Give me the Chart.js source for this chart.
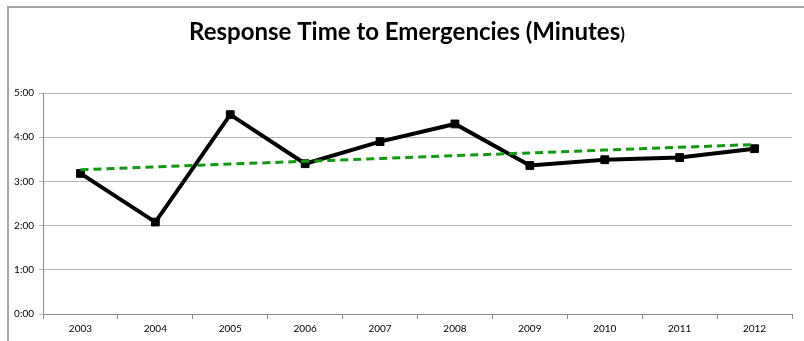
<!DOCTYPE html>
<html>
<head>
<meta charset="utf-8">
<script src="https://cdn.jsdelivr.net/npm/chart.js@4.4.1/dist/chart.umd.min.js"></script>
<style>
  html, body { margin: 0; padding: 0; background: #fff; }
  #wrap { width: 804px; height: 341px; position: relative; }
</style>
</head>
<body>
<div id="wrap"><canvas id="chart" width="804" height="341"></canvas></div>
<script>
// Years on the category axis
const years = ['2003', '2004', '2005', '2006', '2007', '2008', '2009', '2010', '2011', '2012'];
// Average response time per year, in minutes
const responseMinutes = [3.18, 2.08, 4.51, 3.40, 3.90, 4.30, 3.36, 3.49, 3.54, 3.74];
// Vertical axis range and tick step, in minutes
const yMin = 0;
const yMax = 5;
const yStep = 1;

const titleMain = 'Response Time to Emergencies (Minutes';
const titleClose = ')';

// Least-squares linear trend over the yearly values
function linearTrend(values) {
  const n = values.length;
  let sx = 0, sy = 0, sxy = 0, sxx = 0;
  values.forEach((v, i) => { sx += i; sy += v; sxy += i * v; sxx += i * i; });
  const slope = (n * sxy - sx * sy) / (n * sxx - sx * sx);
  const intercept = (sy - slope * sx) / n;
  return values.map((_, i) => intercept + slope * i);
}
const trendMinutes = linearTrend(responseMinutes);

function toClock(minutes) {
  const totalSec = Math.round(minutes * 60);
  const m = Math.floor(totalSec / 60);
  const s = totalSec % 60;
  return m + ':' + String(s).padStart(2, '0');
}

const FONT = 'Lato, "Open Sans", sans-serif';

// White background, frame on top and left, and the title
const framePlugin = {
  id: 'frame',
  beforeDraw(chart) {
    const ctx = chart.ctx;
    ctx.save();
    ctx.fillStyle = '#ffffff';
    ctx.fillRect(0, 0, chart.width, chart.height);
    ctx.strokeStyle = '#a6a6a6';
    ctx.lineWidth = 2;
    ctx.beginPath();
    ctx.moveTo(8, chart.height);
    ctx.lineTo(8, 7);
    ctx.lineTo(chart.width, 7);
    ctx.stroke();

    ctx.fillStyle = '#000000';
    ctx.textBaseline = 'alphabetic';
    ctx.font = 'bold 24px ' + FONT;
    const w1 = ctx.measureText(titleMain).width;
    ctx.font = 'bold 17px ' + FONT;
    const w2 = ctx.measureText(titleClose).width;
    const x0 = 407 - (w1 + w2) / 2;
    ctx.font = 'bold 24px ' + FONT;
    ctx.textAlign = 'left';
    ctx.fillText(titleMain, x0, 40);
    ctx.font = 'bold 17px ' + FONT;
    ctx.fillText(titleClose, x0 + w1, 40);
    ctx.restore();
  }
};

new Chart(document.getElementById('chart'), {
  type: 'line',
  data: {
    labels: years,
    datasets: [
      {
        label: 'Linear trend',
        data: trendMinutes,
        borderColor: '#0f9a0f',
        borderWidth: 3,
        borderDash: [8, 5],
        pointRadius: 0,
        fill: false,
        tension: 0,
        order: 0
      },
      {
        label: 'Response time',
        data: responseMinutes,
        borderColor: '#000000',
        backgroundColor: '#000000',
        borderWidth: 4,
        pointStyle: 'rect',
        pointRadius: 5.5,
        pointBorderWidth: 1,
        pointBackgroundColor: '#000000',
        pointBorderColor: '#000000',
        fill: false,
        tension: 0,
        order: 1
      }
    ]
  },
  plugins: [framePlugin],
  options: {
    responsive: false,
    animation: false,
    devicePixelRatio: 1,
    layout: { padding: { top: 93, right: 12, bottom: 0, left: 0 } },
    plugins: {
      legend: { display: false },
      title: { display: false },
      tooltip: { enabled: false }
    },
    scales: {
      x: {
        offset: true,
        grid: {
          display: true,
          offset: true,
          drawOnChartArea: false,
          drawTicks: true,
          tickLength: 5,
          color: '#8c8c8c'
        },
        border: { display: true, color: '#8c8c8c', width: 1 },
        ticks: {
          color: '#000000',
          font: { family: FONT, size: 10 },
          padding: 4,
          maxRotation: 0
        },
        afterFit(scale) { scale.height = 27; }
      },
      y: {
        min: yMin,
        max: yMax,
        grid: {
          color: '#b4b4b4',
          lineWidth: 1,
          drawTicks: true,
          tickLength: 4
        },
        border: { display: true, color: '#8c8c8c', width: 1 },
        ticks: {
          stepSize: yStep,
          color: '#000000',
          font: { family: FONT, size: 10 },
          padding: 5,
          callback: (v) => toClock(v)
        },
        afterFit(scale) { scale.width = 43; }
      }
    }
  }
});
</script>
</body>
</html>
